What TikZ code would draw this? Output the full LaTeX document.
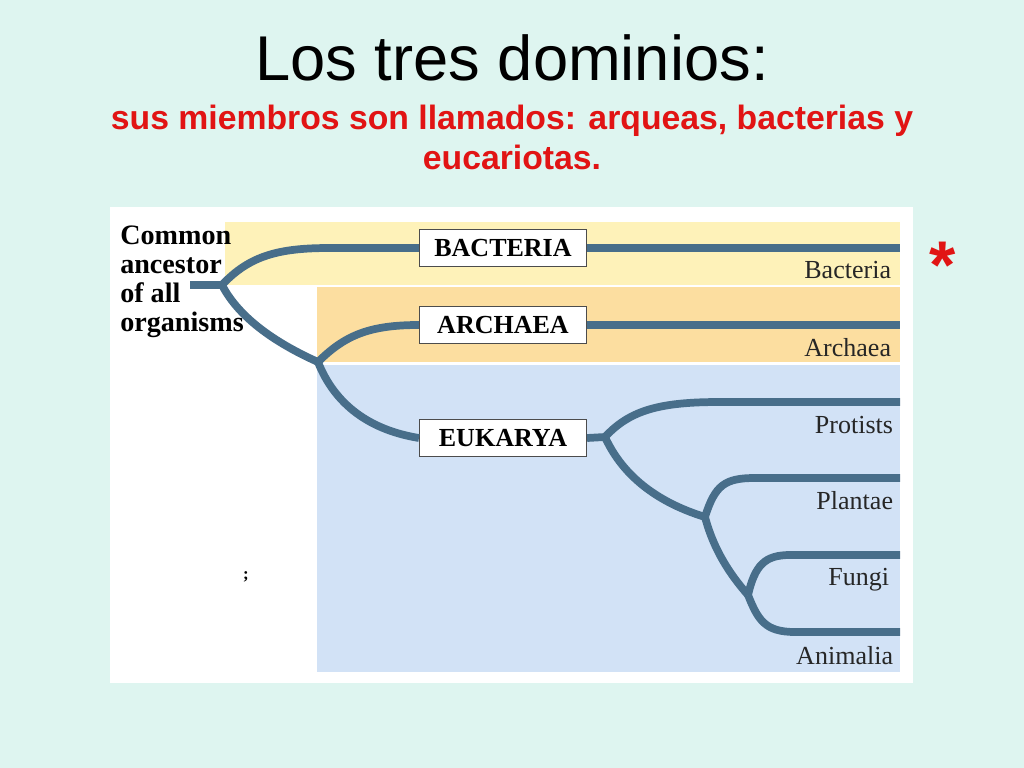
\documentclass[tikz,border=0pt]{standalone}
\usepackage{fontspec}
\setmainfont{Liberation Serif}
\newfontfamily\arialfont{Liberation Sans}
\usetikzlibrary{positioning}
\definecolor{slidebg}{RGB}{222,245,240}
\definecolor{bactband}{RGB}{254,242,185}
\definecolor{archband}{RGB}{252,222,160}
\definecolor{eukband}{RGB}{210,226,246}
\definecolor{treeblue}{RGB}{72,110,138}
\definecolor{titlered}{RGB}{225,20,20}
\tikzset{
  branch/.style={draw=treeblue, line width=5.5pt, line cap=butt},
  domainbox/.style={draw=black!70, fill=white, line width=0.8pt, minimum width=167\pxu, minimum height=37\pxu, inner sep=0pt, font=\fontsize{18.5}{18}\selectfont\bfseries},
  leaflabel/.style={anchor=east, font=\fontsize{18.5}{20}\selectfont, text=black!85}
}
\newlength{\pxu}\setlength{\pxu}{0.025cm}
\begin{document}
\begin{tikzpicture}[x=0.025cm, y=-0.025cm]
  \useasboundingbox[fill=slidebg] (0,0) rectangle (1024,768);
  % title
  \node[font=\arialfont\fontsize{45}{45}\selectfont] (title) at (512,58) {Los tres dominios:};
  \node[font=\arialfont\bfseries\fontsize{24}{28.5}\selectfont, text=titlered, align=center] (subtitle) at (512,137)
    {sus miembros son llamados: arqueas, bacterias y\\eucariotas.};
  \node[font=\arialfont\bfseries\fontsize{48}{48}\selectfont, text=titlered] (star) at (943,265) {*};
  % figure and colour bands
  \fill[white] (110,207) rectangle (913,683);
  \fill[bactband] (225,222) rectangle (900,285);
  \fill[archband] (317,287) rectangle (900,362);
  \fill[eukband] (317,365) rectangle (900,672);
  \node[anchor=north west, align=left, font=\fontsize{20}{20.5}\selectfont\bfseries, inner sep=0pt] (ancestor) at (120,226)
    {Common\\ancestor\\of all\\organisms};
  \node[font=\bfseries\fontsize{12}{12}\selectfont] (stray) at (246,577) {;};
  % branch points
  \coordinate (root) at (190,285);
  \coordinate (fork1) at (222,285);
  \coordinate (fork2) at (318,362);
  \coordinate (fork3) at (605,437);
  \coordinate (fork4) at (705,517);
  \coordinate (fork5) at (748,595);
  \coordinate (endbact) at (900,248);
  \coordinate (endarch) at (900,325);
  \coordinate (endprot) at (900,402);
  \coordinate (endplant) at (900,478);
  \coordinate (endfungi) at (900,555);
  \coordinate (endanim) at (900,632);
  % domain boxes
  \node[domainbox] (bacteria) at (503,248) {BACTERIA};
  \node[domainbox] (archaea) at (503,325) {ARCHAEA};
  \node[domainbox] (eukarya) at (503,438) {EUKARYA};
  % tree
  \draw[branch] (root) -- (fork1);
  \draw[branch] (fork1) .. controls (250,255) and (280,248) .. (330,248) -- (bacteria.west);
  \draw[branch] (bacteria.east) -- (endbact);
  \draw[branch] (fork1) .. controls (240,320) and (280,345) .. (fork2);
  \draw[branch] (fork2) .. controls (345,335) and (370,325) .. (archaea.west);
  \draw[branch] (archaea.east) -- (endarch);
  \draw[branch] (fork2) .. controls (335,405) and (370,430) .. (eukarya.west);
  \draw[branch] (eukarya.east) -- (fork3);
  \draw[branch] (fork3) .. controls (630,410) and (660,402) .. (720,402) -- (endprot);
  \draw[branch] (fork3) .. controls (620,470) and (650,500) .. (fork4);
  \draw[branch] (fork4) .. controls (715,485) and (725,478) .. (755,478) -- (endplant);
  \draw[branch] (fork4) .. controls (715,555) and (735,580) .. (fork5);
  \draw[branch] (fork5) .. controls (755,565) and (765,555) .. (790,555) -- (endfungi);
  \draw[branch] (fork5) .. controls (758,620) and (765,632) .. (795,632) -- (endanim);
  % leaf labels
  \node[leaflabel] (lbact) at (896,270) {Bacteria};
  \node[leaflabel] (larch) at (896,348) {Archaea};
  \node[leaflabel] (lprot) at (898,425) {Protists};
  \node[leaflabel] (lplant) at (898,501) {Plantae};
  \node[leaflabel] (lfungi) at (894,580) {Fungi};
  \node[leaflabel] (lanim) at (898,656) {Animalia};
\end{tikzpicture}
\end{document}
